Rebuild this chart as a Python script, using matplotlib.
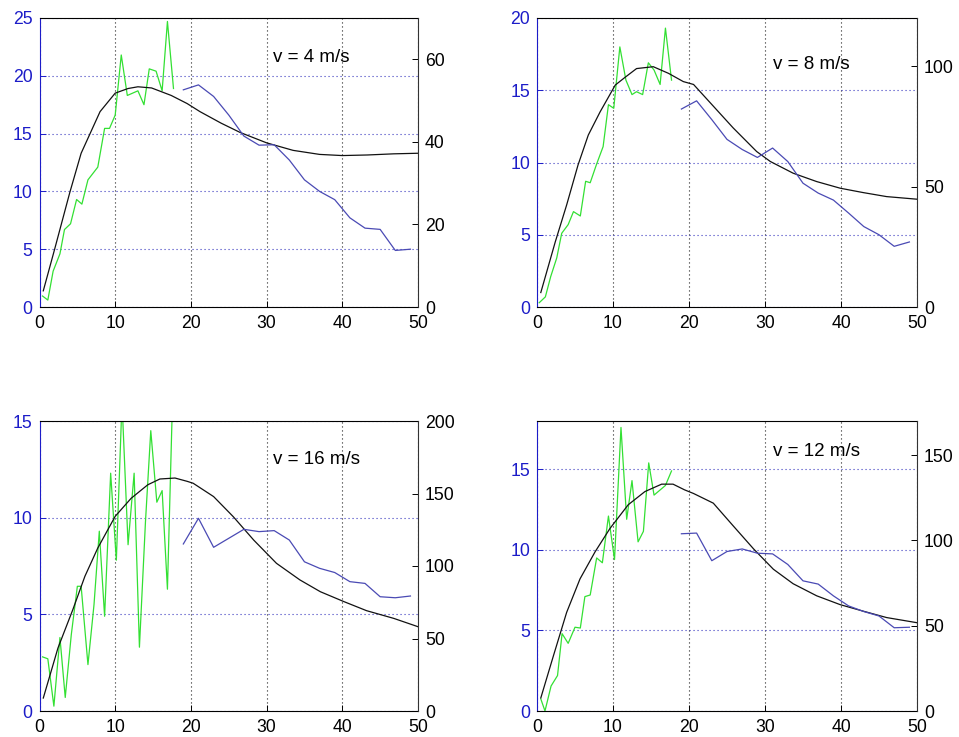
import matplotlib
matplotlib.use("Agg")
import matplotlib.pyplot as plt

plt.rcParams['font.family'] = ['Liberation Sans', 'DejaVu Sans']

# ---------------- data ----------------
titles = ["v = 4 m/s", "v = 8 m/s", "v = 16 m/s", "v = 12 m/s"]

left_ylim = [25, 20, 15, 18]
right_ylim = [70, 120, 200, 170]
left_ticks = [[0, 5, 10, 15, 20, 25], [0, 5, 10, 15, 20], [0, 5, 10, 15], [0, 5, 10, 15]]
right_ticks = [[0, 20, 40, 60], [0, 50, 100], [0, 50, 100, 150, 200], [0, 50, 100, 150]]
x_ticks = [0, 10, 20, 30, 40, 50]

# green (measured, left axis)
green_x1 = [0.4, 1.1, 1.8, 2.7, 3.3, 4.1, 4.9, 5.6, 6.4, 7.7, 8.6, 9.25, 10.0, 10.8, 11.6, 13.0, 13.8, 14.5, 15.4, 16.2, 16.9, 17.7]
green_y1 = [0.95, 0.6, 3.1, 4.6, 6.7, 7.2, 9.3, 8.9, 11.0, 12.1, 15.45, 15.45, 16.6, 21.8, 18.3, 18.7, 17.5, 20.6, 20.4, 18.7, 24.7, 18.9]
green_x2 = [0.3, 1.1, 1.8, 2.6, 3.25, 4.1, 4.8, 5.7, 6.4, 7.0, 7.85, 8.7, 9.4, 10.1, 10.9, 11.7, 12.5, 13.1, 13.9, 14.65, 15.4, 16.2, 16.9, 17.7]
green_y2 = [0.3, 0.7, 2.1, 3.4, 5.1, 5.7, 6.6, 6.3, 8.7, 8.6, 9.9, 11.1, 14.0, 13.75, 18.0, 15.7, 14.7, 14.9, 14.7, 16.9, 16.4, 15.4, 19.3, 15.7]
green_x3 = [0.4, 1.1, 1.9, 2.7, 3.4, 4.2, 5.0, 5.5, 6.4, 7.2, 7.9, 8.6, 9.4, 10.15, 10.9, 11.7, 12.5, 13.2, 14.0, 14.7, 15.5, 16.2, 16.9, 17.6]
green_y3 = [2.8, 2.7, 0.25, 3.8, 0.7, 3.95, 6.45, 6.45, 2.4, 5.5, 9.3, 4.9, 12.3, 7.8, 16.0, 8.6, 12.3, 3.3, 9.8, 14.5, 10.8, 11.4, 6.3, 16.5]
green_x4 = [0.5, 1.05, 1.85, 2.7, 3.3, 4.1, 5.0, 5.7, 6.3, 7.0, 7.85, 8.6, 9.4, 10.2, 11.05, 11.8, 12.5, 13.3, 14.0, 14.7, 15.4, 16.9, 17.7]
green_y4 = [0.75, 0.0, 1.55, 2.2, 4.8, 4.2, 5.2, 5.15, 7.1, 7.2, 9.5, 9.2, 12.1, 9.4, 17.6, 11.9, 14.3, 10.5, 11.15, 15.4, 13.4, 14.0, 14.9]

# blue (right axis)
blue_x = [19, 21, 23, 25, 27, 29, 31, 33, 35, 37, 39, 41, 43, 45, 47, 49]
blue_y1 = [52.6, 53.8, 51.0, 46.5, 41.4, 39.2, 39.3, 35.6, 30.8, 28.0, 26.0, 21.6, 19.1, 18.8, 13.7, 14.0]
blue_y2 = [82.2, 85.6, 77.8, 69.6, 65.4, 62.1, 66.0, 60.4, 51.4, 47.3, 44.4, 39.0, 33.4, 30.0, 25.2, 27.0]
blue_y3 = [115.2, 132.9, 112.9, 119.1, 125.3, 123.7, 124.4, 117.9, 102.9, 98.4, 95.5, 89.2, 88.0, 78.8, 78.1, 79.3]
blue_y4 = [103.9, 104.3, 88.1, 93.5, 95.0, 92.5, 92.1, 85.9, 76.3, 74.4, 67.5, 61.6, 58.3, 55.7, 48.8, 49.1]

# black (model, left axis)
black_x1 = [0.5, 2, 4, 5.5, 8, 10, 11.7, 13, 14.8, 17.4, 19.5, 21.2, 24, 26.5, 30, 33.5, 37, 40, 43.3, 46.8, 50]
black_y1 = [1.4, 5.0, 9.9, 13.3, 16.9, 18.5, 18.9, 19.05, 18.95, 18.3, 17.6, 16.9, 15.9, 15.1, 14.2, 13.55, 13.2, 13.1, 13.15, 13.25, 13.3]
black_x2 = [0.5, 2.4, 3.9, 5.4, 6.75, 8.3, 10.3, 11.6, 13.1, 15.3, 17.3, 19.25, 20.6, 23.2, 25.8, 28.9, 30.7, 33.7, 36.8, 39.9, 42.9, 46.0, 50]
black_y2 = [1.0, 4.5, 7.06, 9.83, 11.9, 13.5, 15.36, 15.9, 16.5, 16.63, 16.17, 15.6, 15.4, 13.9, 12.4, 10.76, 10.07, 9.26, 8.68, 8.22, 7.92, 7.64, 7.46]
black_x3 = [0.5, 2.44, 4.4, 6.0, 7.7, 10.0, 12.1, 14.3, 15.9, 17.9, 19.5, 20.3, 23.0, 25.6, 28.3, 31.3, 34.4, 37.1, 40.2, 43.2, 46.8, 50]
black_y3 = [0.67, 3.26, 5.24, 6.97, 8.43, 10.07, 11.0, 11.7, 12.0, 12.05, 11.88, 11.78, 11.09, 10.05, 8.84, 7.64, 6.78, 6.17, 5.66, 5.19, 4.79, 4.36]
black_x4 = [0.5, 2.15, 3.9, 5.66, 7.63, 9.6, 12.0, 14.2, 16.4, 17.9, 19.4, 20.6, 23.2, 25.8, 28.5, 31.1, 33.7, 36.8, 39.9, 42.9, 46.0, 50]
black_y4 = [0.81, 3.41, 6.12, 8.2, 9.87, 11.33, 12.8, 13.62, 14.08, 14.08, 13.73, 13.5, 12.9, 11.5, 10.06, 8.8, 7.9, 7.15, 6.6, 6.2, 5.8, 5.48]

greens = [(green_x1, green_y1), (green_x2, green_y2), (green_x3, green_y3), (green_x4, green_y4)]
blues = [blue_y1, blue_y2, blue_y3, blue_y4]
blacks = [(black_x1, black_y1), (black_x2, black_y2), (black_x3, black_y3), (black_x4, black_y4)]
title_pos = [(30.8, 21.6), (31.1, 16.8), (30.9, 13.0), (31.0, 16.1)]

# ---------------- layout ----------------
W, H = 959, 737
rects_px = [(39.5, 18, 418, 307), (537, 18, 917, 307), (39.5, 421, 418, 711), (537, 421, 917, 711)]

AXBLUE = '#1c1cc8'
GRIDBLUE = '#3a3ac0'
GREEN = '#33e033'
LBLUE = '#4a4ab4'

fig = plt.figure(figsize=(W / 100, H / 100), dpi=100)
fs = 12.7

for i in range(4):
    l, t, r, b = rects_px[i]
    ax = fig.add_axes([l / W, (H - b) / H, (r - l) / W, (b - t) / H])
    ax2 = ax.twinx()

    ax.set_xlim(0, 50)
    ax.set_ylim(0, left_ylim[i])
    ax2.set_ylim(0, right_ylim[i])
    ax.set_xticks(x_ticks)
    ax.set_yticks(left_ticks[i])
    ax2.set_yticks(right_ticks[i])

    gx, gy = greens[i]
    ax.plot(gx, gy, color=GREEN, lw=0.9, clip_on=True)
    bx, by = blacks[i]
    ax.plot(bx, by, color='#111111', lw=0.9)
    ax2.plot(blue_x, blues[i], color=LBLUE, lw=0.9)

    ax.grid(axis='x', color='#222222', linestyle=(0, (1, 2.6)), lw=0.8)
    ax.grid(axis='y', color=GRIDBLUE, linestyle=(0, (1, 2.6)), lw=0.8)

    ax.tick_params(axis='x', direction='in', length=4, width=0.7, labelsize=fs, pad=6, colors='black', top=False)
    ax.tick_params(axis='y', direction='in', length=4, width=0.7, labelsize=fs, pad=5, colors=AXBLUE)
    ax2.tick_params(axis='y', direction='in', length=4, width=0.7, labelsize=fs, pad=5, colors='black')

    for sp in ['left', 'top', 'bottom']:
        ax2.spines[sp].set_visible(False)
    ax.spines['right'].set_visible(False)
    ax.spines['left'].set_color(AXBLUE)
    ax.spines['top'].set_color('black')
    ax.spines['bottom'].set_color('black')
    ax2.spines['right'].set_color('#333333')
    for sp in list(ax.spines.values()) + list(ax2.spines.values()):
        sp.set_linewidth(0.8)

    tx, ty = title_pos[i]
    ax.text(tx, ty, titles[i], fontsize=13.5, ha='left', va='center', color='black')

fig.savefig('out.png', dpi=100)
